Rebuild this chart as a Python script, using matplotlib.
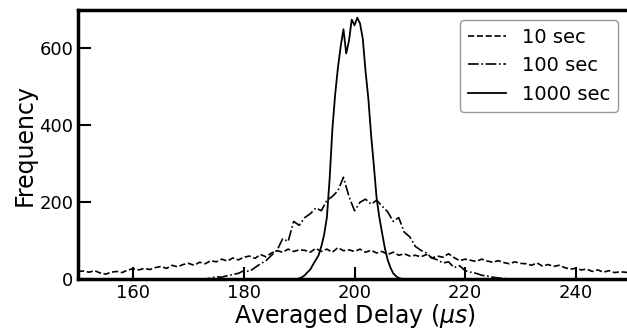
import matplotlib
matplotlib.use("Agg")
import matplotlib.pyplot as plt

# 10 sec histogram, 1 us bins from 150 to 250
x10 = list(range(150, 251))
y10 = [20, 21, 18, 22, 16, 13, 18, 20, 17, 24, 27,
       24, 28, 25, 30, 33, 28, 36, 32, 38, 41,
       36, 44, 40, 48, 45, 52, 47, 55, 50, 57,
       60, 54, 64, 58, 68, 74, 70, 78, 72, 76,
       75, 70, 80, 72, 78, 70, 82, 74, 76, 72,
       78, 70, 75, 68, 72, 64, 70, 62, 66, 60,
       62, 58, 64, 55, 60, 57, 66, 56, 48, 52,
       49, 46, 52, 47, 44, 48, 43, 40, 45, 41,
       40, 36, 42, 34, 38, 33, 36, 30, 26, 28,
       24, 26, 20, 24, 18, 22, 17, 19, 18, 15]

# 100 sec histogram, 1 us bins from 172 to 229
x100 = list(range(172, 230))
y100 = [0, 0, 3, 6, 5, 9, 12, 15, 22, 20,
        30, 40, 48, 62, 75, 105, 98, 150, 140, 160,
        170, 185, 178, 205, 215, 230, 265, 215, 178, 200,
        208, 195, 205, 190, 175, 150, 160, 122, 110, 85,
        75, 68, 55, 50, 42, 45, 30, 35, 22, 18,
        15, 10, 8, 5, 3, 2, 0, 0]

# 1000 sec histogram, 0.5 us bins from 189 to 209
x1000 = [189 + 0.5 * i for i in range(41)]
y1000 = [0, 0, 2, 5, 10, 18, 25, 38, 50, 62,
         85, 115, 160, 260, 390, 480, 550, 605, 650, 587,
         620, 675, 660, 680, 665, 625, 540, 470, 375, 295,
         210, 160, 119, 80, 50, 30, 15, 8, 3, 1, 0]

fig = plt.figure(figsize=(6.27, 3.28), dpi=100)
ax = fig.add_axes([0.1244, 0.149, 0.882, 0.8205])

ax.plot(x10, y10, color="black", linestyle="--", linewidth=1.2, label="10 sec")
ax.plot(x100, y100, color="black", linestyle="-.", linewidth=1.2, label="100 sec")
ax.plot(x1000, y1000, color="black", linestyle="-", linewidth=1.3, label="1000 sec")

ax.set_xlim(150, 250)
ax.set_ylim(0, 700)
ax.set_xticks([160, 180, 200, 220, 240])
ax.set_yticks([0, 200, 400, 600])
ax.tick_params(direction="in", length=9, width=1.5, labelsize=13)
for s in ax.spines.values():
    s.set_linewidth(2.5)

ax.set_xlabel(r"Averaged Delay ($\mu s$)", fontsize=17, labelpad=0)
ax.set_ylabel("Frequency", fontsize=17, labelpad=2)

ax.legend(loc="upper right", fontsize=14, edgecolor="gray", handlelength=2.0,
          borderaxespad=0.5, bbox_to_anchor=(0.994, 1.0))

fig.savefig("out.png", dpi=100)
